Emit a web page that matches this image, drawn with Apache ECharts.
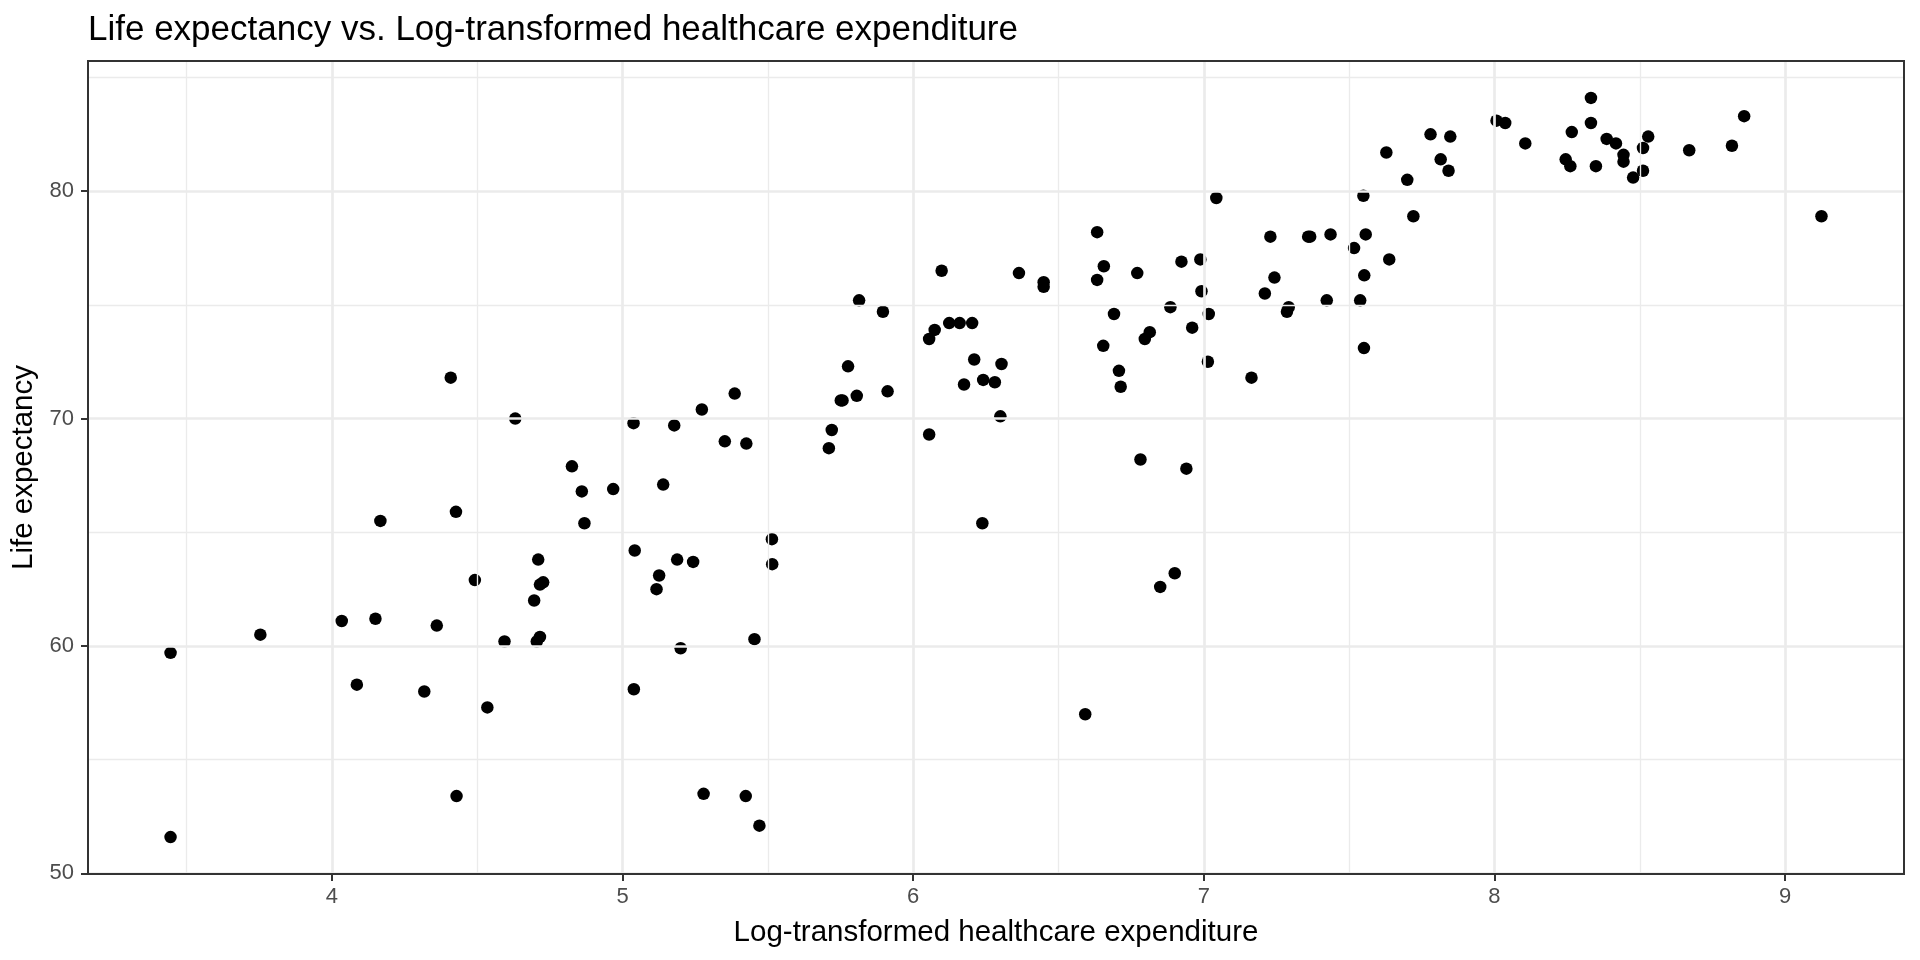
<!DOCTYPE html>
<html>
<head>
<meta charset="utf-8">
<script src="https://cdn.jsdelivr.net/npm/echarts@6/dist/echarts.min.js"></script>
<style>
  html, body { margin: 0; padding: 0; background: #ffffff; }
  #chart { width: 1920px; height: 960px; }
</style>
</head>
<body>
<div id="chart"></div>
<script>
// ---- data ----
const logExpenditure = [
  3.445, 3.445, 3.754, 4.034, 4.150, 4.086, 4.167, 4.361, 4.318, 4.409,
  4.427, 4.429, 4.492, 4.535, 4.594, 4.631, 4.696, 4.710, 4.716, 4.727,
  4.705, 4.716, 4.826, 4.860, 4.869, 4.968, 5.038, 5.042, 5.039, 5.117,
  5.126, 5.140, 5.178, 5.188, 5.243, 5.200, 5.273, 5.352, 5.386, 5.426,
  5.454, 5.279, 5.424, 5.471, 5.514, 5.515,
  5.720, 5.710, 5.751, 5.757, 5.806, 5.776, 5.912, 5.814, 5.896, 6.055,
  6.055, 6.074, 6.098, 6.124, 6.160, 6.203, 6.210, 6.175, 6.241, 6.281,
  6.304, 6.300, 6.238, 6.364, 6.449, 6.449, 6.592, 6.633, 6.656, 6.633,
  6.691, 6.654, 6.708, 6.714, 6.771, 6.797, 6.814, 6.782, 6.885, 6.923,
  6.988, 6.992, 6.960, 7.017, 7.014, 7.043, 6.940, 6.850, 6.900,
  7.164, 7.229, 7.243, 7.210, 7.292, 7.286, 7.359, 7.366, 7.436, 7.423,
  7.549, 7.557, 7.517, 7.638, 7.552, 7.538, 7.551, 7.628, 7.721, 7.700,
  7.780, 7.815, 7.842, 7.848, 8.007, 8.037, 8.106, 8.332, 8.332, 8.266,
  8.245, 8.261, 8.349, 8.386, 8.418, 8.444, 8.444, 8.477, 8.511, 8.511,
  8.529, 8.670, 8.817, 8.859, 9.125
];
const lifeExpectancy = [
  59.7, 51.6, 60.5, 61.1, 61.2, 58.3, 65.5, 60.9, 58.0, 71.8,
  65.9, 53.4, 62.9, 57.3, 60.2, 70.0, 62.0, 63.8, 62.7, 62.8,
  60.2, 60.4, 67.9, 66.8, 65.4, 66.9, 69.8, 64.2, 58.1, 62.5,
  63.1, 67.1, 69.7, 63.8, 63.7, 59.9, 70.4, 69.0, 71.1, 68.9,
  60.3, 53.5, 53.4, 52.1, 64.7, 63.6,
  69.5, 68.7, 70.8, 70.8, 71.0, 72.3, 71.2, 75.2, 74.7, 69.3,
  73.5, 73.9, 76.5, 74.2, 74.2, 74.2, 72.6, 71.5, 71.7, 71.6,
  72.4, 70.1, 65.4, 76.4, 76.0, 75.8, 57.0, 78.2, 76.7, 76.1,
  74.6, 73.2, 72.1, 71.4, 76.4, 73.5, 73.8, 68.2, 74.9, 76.9,
  77.0, 75.6, 74.0, 74.6, 72.5, 79.7, 67.8, 62.6, 63.2,
  71.8, 78.0, 76.2, 75.5, 74.9, 74.7, 78.0, 78.0, 78.1, 75.2,
  79.8, 78.1, 77.5, 77.0, 76.3, 75.2, 73.1, 81.7, 78.9, 80.5,
  82.5, 81.4, 80.9, 82.4, 83.1, 83.0, 82.1, 84.1, 83.0, 82.6,
  81.4, 81.1, 81.1, 82.3, 82.1, 81.6, 81.3, 80.6, 80.9, 81.9,
  82.4, 81.8, 82.0, 83.3, 78.9
];
const xTicks = [4, 5, 6, 7, 8, 9];
const xMinorGrid = [3.5, 4.5, 5.5, 6.5, 7.5, 8.5];
const yTicks = [50, 60, 70, 80];
const yMinorGrid = [55, 65, 75, 85];
const xRange = [3.161, 9.409];
const yRange = [49.975, 85.725];

// ---- chart ----
const FONT = '"Liberation Sans", Arial, Helvetica, sans-serif';
const points = logExpenditure.map((x, i) => [x, lifeExpectancy[i]]);

const gridLines = [];
xTicks.forEach(v => gridLines.push({ xAxis: v, lineStyle: { color: '#EBEBEB', width: 2.7, type: 'solid' } }));
xMinorGrid.forEach(v => gridLines.push({ xAxis: v, lineStyle: { color: '#EBEBEB', width: 1.35, type: 'solid' } }));
yTicks.forEach(v => gridLines.push({ yAxis: v, lineStyle: { color: '#EBEBEB', width: 2.7, type: 'solid' } }));
yMinorGrid.forEach(v => gridLines.push({ yAxis: v, lineStyle: { color: '#EBEBEB', width: 1.35, type: 'solid' } }));

const chart = echarts.init(document.getElementById('chart'), null, { renderer: 'canvas' });
chart.setOption({
  backgroundColor: '#ffffff',
  animation: false,
  textStyle: { fontFamily: FONT },
  title: {
    text: 'Life expectancy vs. Log-transformed healthcare expenditure',
    left: 88,
    top: 13,
    padding: 0,
    textStyle: { fontFamily: FONT, fontSize: 35, fontWeight: 'normal', color: '#000000' }
  },
  grid: {
    left: 88, right: 16, top: 61, bottom: 86,
    show: true, borderColor: '#333333', borderWidth: 2, backgroundColor: 'transparent',
    z: 10
  },
  xAxis: {
    type: 'value',
    min: xRange[0], max: xRange[1],
    name: 'Log-transformed healthcare expenditure',
    nameLocation: 'middle',
    nameGap: 43.5,
    nameTextStyle: { fontFamily: FONT, fontSize: 29.5, color: '#000000' },
    axisLine: { show: false },
    axisTick: { show: true, customValues: xTicks, length: 7, lineStyle: { color: '#333333', width: 2 } },
    axisLabel: { customValues: xTicks, margin: 12, fontFamily: FONT, fontSize: 22, color: '#4D4D4D' },
    splitLine: { show: false },
    minorSplitLine: { show: false }
  },
  yAxis: {
    type: 'value',
    min: yRange[0], max: yRange[1],
    name: 'Life expectancy',
    nameLocation: 'middle',
    nameGap: 45.5,
    nameRotate: 90,
    nameTextStyle: { fontFamily: FONT, fontSize: 29.5, color: '#000000' },
    axisLine: { show: false },
    axisTick: { show: true, customValues: yTicks, length: 7, lineStyle: { color: '#333333', width: 2 } },
    axisLabel: { customValues: yTicks, margin: 14, fontFamily: FONT, fontSize: 22, color: '#4D4D4D' },
    splitLine: { show: false },
    minorSplitLine: { show: false }
  },
  series: [
    {
      type: 'scatter',
      name: 'grid',
      data: [],
      silent: true,
      z: 1,
      markLine: {
        silent: true,
        symbol: ['none', 'none'],
        label: { show: false },
        emphasis: { disabled: true },
        animation: false,
        data: gridLines
      }
    },
    {
      type: 'scatter',
      name: 'countries',
      data: points,
      symbol: 'circle',
      symbolSize: 12.5,
      itemStyle: { color: '#000000', opacity: 1, borderWidth: 0 },
      z: 3
    }
  ]
});
</script>
</body>
</html>
